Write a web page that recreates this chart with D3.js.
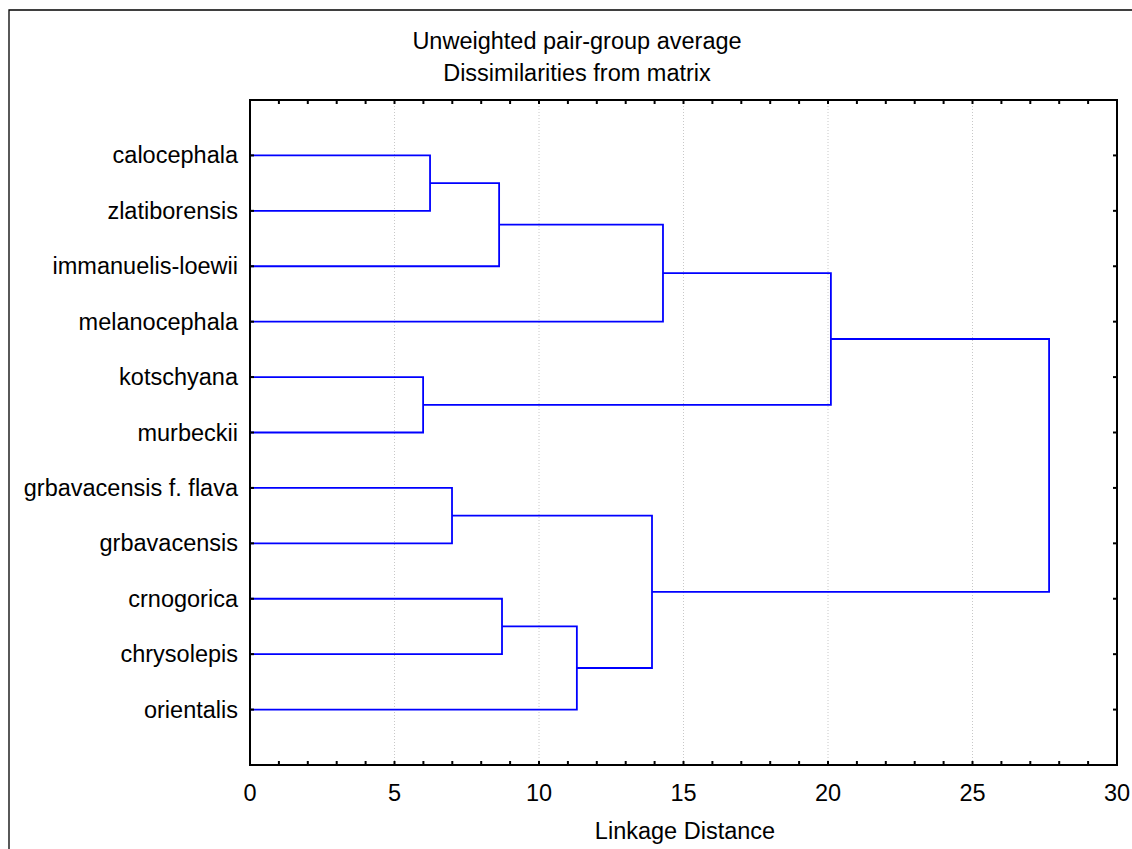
<!DOCTYPE html>
<html><head><meta charset="utf-8">
<script src="https://cdn.jsdelivr.net/npm/d3@7"></script>
<style>body{margin:0;background:#fff}svg{display:block}text{font-family:"Liberation Sans",Arial,sans-serif;fill:#000}</style>
</head><body>
<script>
const leaves = ["calocephala","zlatiborensis","immanuelis-loewii","melanocephala","kotschyana","murbeckii","grbavacensis f. flava","grbavacensis","crnogorica","chrysolepis","orientalis"];
// merges (ids 0..10 are leaves, 11+ are clusters created in order)
const mergeA = [0, 11, 12, 4, 13, 6, 8, 17, 16, 15];
const mergeB = [1, 2, 3, 5, 14, 7, 9, 10, 18, 19];
const mergeH = [6.23, 8.62, 14.29, 5.99, 20.1, 6.99, 8.72, 11.31, 13.91, 27.65];
const xTicks = [0,5,10,15,20,25,30];
const titleLines = ["Unweighted pair-group average","Dissimilarities from matrix"];
const xLabel = "Linkage Distance";

const W=1132,H=849, L=250, R=1117, T=100, Bt=765, FS=23.5;
const svg=d3.select("body").append("svg").attr("width",W).attr("height",H);
svg.append("path").attr("d",`M9,${H}V10H${W}`).attr("fill","none").attr("stroke","#000").attr("stroke-width",1.3);

const x=d3.scaleLinear().domain([0,30]).range([L,R]);
const y=d3.scalePoint().domain(leaves).range([T,Bt]).padding(1);

// grid
svg.append("g").selectAll("line").data(xTicks.slice(1,-1)).join("line")
 .attr("x1",d=>x(d)).attr("x2",d=>x(d)).attr("y1",T).attr("y2",Bt)
 .attr("stroke","#c8c8c8").attr("stroke-width",1).attr("stroke-dasharray","1,2");

// dendrogram
const nodeX=[], nodeY=[];
leaves.forEach((l,i)=>{nodeX[i]=x(0);nodeY[i]=y(l);});
const g=svg.append("g").attr("fill","none").attr("stroke","#0000ff").attr("stroke-width",1.8);
mergeH.forEach((h,k)=>{
  const a=mergeA[k], b=mergeB[k], id=leaves.length+k, xh=x(h);
  g.append("path").attr("d",`M${nodeX[a]},${nodeY[a]}H${xh}V${nodeY[b]}H${nodeX[b]}`);
  nodeX[id]=xh; nodeY[id]=(nodeY[a]+nodeY[b])/2;
});

// axes
const minor=d3.range(0,31);
const ax=svg.append("g").attr("stroke","#000");
ax.selectAll(".tb").data(minor).join("line").attr("x1",d=>x(d)).attr("x2",d=>x(d)).attr("y1",Bt).attr("y2",Bt-4).attr("stroke-width",2);
ax.selectAll(".tt").data(minor).join("line").attr("x1",d=>x(d)).attr("x2",d=>x(d)).attr("y1",T).attr("y2",T+4).attr("stroke-width",2);
ax.selectAll(".tl").data(leaves).join("line").attr("x1",L).attr("x2",L+4).attr("y1",d=>y(d)).attr("y2",d=>y(d)).attr("stroke-width",2);
ax.selectAll(".tr").data(leaves).join("line").attr("x1",R).attr("x2",R-4).attr("y1",d=>y(d)).attr("y2",d=>y(d)).attr("stroke-width",2);
svg.append("rect").attr("x",L).attr("y",T).attr("width",R-L).attr("height",Bt-T).attr("fill","none").attr("stroke","#000").attr("stroke-width",2);

svg.append("g").selectAll("text").data(xTicks).join("text").attr("x",d=>x(d)).attr("y",801)
 .attr("text-anchor","middle").attr("font-size",FS).text(d=>d);
svg.append("g").selectAll("text").data(leaves).join("text").attr("x",238).attr("y",d=>y(d)+8)
 .attr("text-anchor","end").attr("font-size",FS).text(d=>d);
svg.append("g").selectAll("text").data(titleLines).join("text").attr("x",577).attr("y",(d,i)=>49+i*32)
 .attr("text-anchor","middle").attr("font-size",FS).text(d=>d);
svg.append("text").attr("x",685).attr("y",839).attr("text-anchor","middle").attr("font-size",FS).text(xLabel);
</script>
</body></html>
